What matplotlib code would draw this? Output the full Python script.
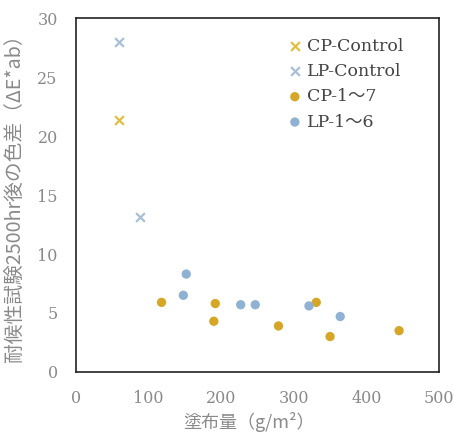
import matplotlib
matplotlib.use("Agg")
import matplotlib.pyplot as plt

# data
cp_ctrl_x = [60]
cp_ctrl_y = [21.4]
lp_ctrl_x = [60, 88]
lp_ctrl_y = [28.0, 13.1]
cp_x = [118, 192, 190, 279, 331, 350, 445]
cp_y = [5.9, 5.8, 4.3, 3.9, 5.9, 3.0, 3.5]
lp_x = [152, 148, 227, 247, 321, 364]
lp_y = [8.3, 6.5, 5.7, 5.7, 5.6, 4.7]

YELLOW = "#d6a626"
BLUE = "#8fb2d4"
GREY = "#8a8a8a"
serif = ["DejaVu Serif", "Noto Sans CJK JP"]
jp = ["Noto Sans CJK JP", "DejaVu Sans"]

fig = plt.figure(figsize=(4.54, 4.32), dpi=100)
ax = fig.add_axes([0.167, 0.139, 0.800, 0.819])

ax.scatter(cp_ctrl_x, cp_ctrl_y, marker="x", s=40, color="#e0bf40", linewidths=1.6, label="CP-Control")
ax.scatter(lp_ctrl_x, lp_ctrl_y, marker="x", s=40, color="#a9bfd6", linewidths=1.6, label="LP-Control")
ax.scatter(cp_x, cp_y, marker="o", s=45, color=YELLOW, edgecolors="none", label="CP-1～7")
ax.scatter(lp_x, lp_y, marker="o", s=45, color=BLUE, edgecolors="none", label="LP-1～6")

ax.set_xlim(0, 500)
ax.set_ylim(0, 30)
ax.set_xticks([0, 100, 200, 300, 400, 500])
ax.set_yticks([0, 5, 10, 15, 20, 25, 30])
ax.tick_params(length=0, pad=13, labelsize=11.5, labelcolor=GREY)
for lab in ax.get_xticklabels() + ax.get_yticklabels():
    lab.set_family(serif)
for s in ax.spines.values():
    s.set_color("#222222")
    s.set_linewidth(1.2)

ax.set_xlabel("塗布量（g/m²）", family=jp, color=GREY, fontsize=13)
ax.xaxis.set_label_coords(0.477, -0.113)
ax.set_ylabel("耐候性試験2500hr後の色差（ΔE*ab）", family=jp, color=GREY, fontsize=14.2)
ax.yaxis.set_label_coords(-0.14, 0.505)

leg = ax.legend(loc="upper left", bbox_to_anchor=(0.584, 0.945), frameon=False,
                borderpad=0, borderaxespad=0, handletextpad=0.3, handlelength=0.8,
                labelspacing=0.48, prop={"family": serif, "size": 12.5})
for t in leg.get_texts():
    t.set_color("#444444")

fig.savefig("out.png", dpi=100)
